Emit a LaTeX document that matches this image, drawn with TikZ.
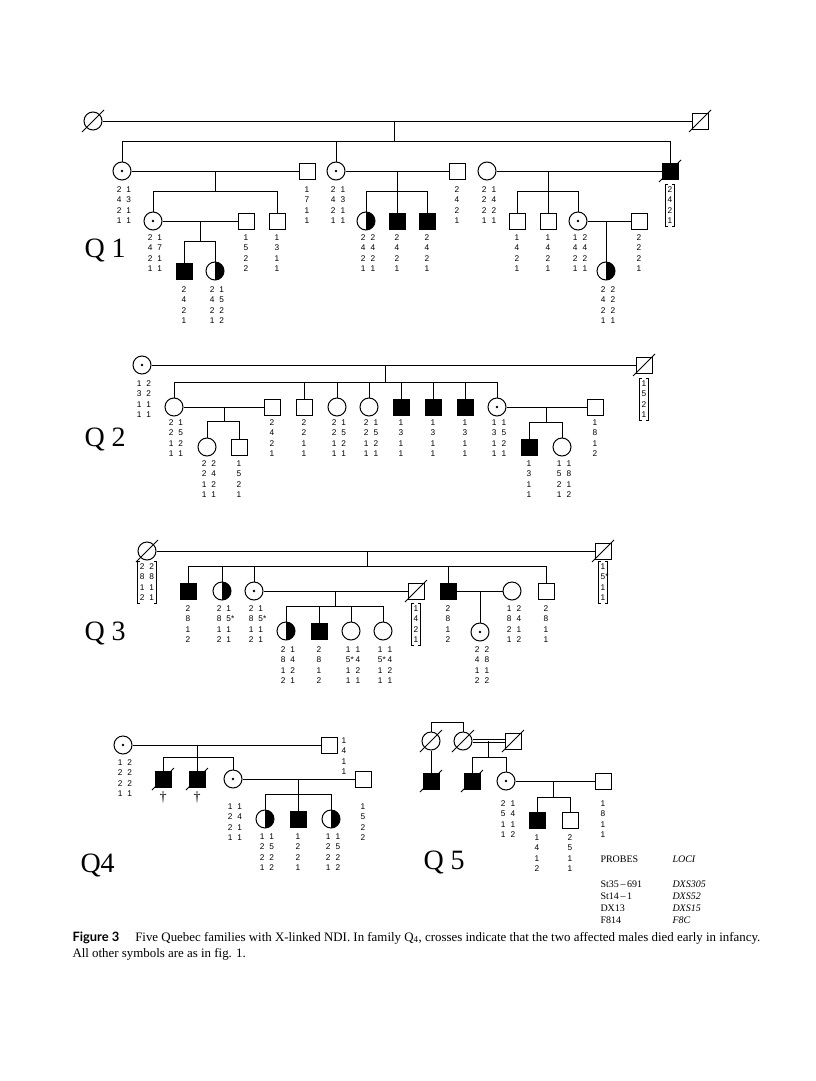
\documentclass[tikz,border=0pt]{standalone}
\usepackage{fontspec}
\setmainfont{Liberation Serif}
\newfontfamily\gtfont{Liberation Sans}
\newfontfamily\capsans{Lato}
\newcommand\gs{\hspace{5pt}}
\newcommand\gA[4]{\node[gt] (#1) at (#2,#3-3) {#4};}
\newcommand\gB[4]{\node[gt] (#1) at (#2+2,#3-3) {#4};}
\newcommand\gK[4]{\node[gt,inner xsep=2pt,inner ysep=2pt] (#1) at (#2,#3-5) {#4};
  \draw[line width=0.8pt] ([xshift=2.5pt]#1.north west) -- (#1.north west) -- (#1.south west) -- ([xshift=2.5pt]#1.south west)
    ([xshift=-2.5pt]#1.north east) -- (#1.north east) -- (#1.south east) -- ([xshift=-2.5pt]#1.south east);}
\newcommand\dec[1]{\draw ([shift={(-11pt,-11pt)}]#1.center) -- ([shift={(11pt,11pt)}]#1.center);}
\tikzset{
 sym/.style={draw, line width=1pt, inner sep=0pt, fill=white},
 male/.style={sym, rectangle, minimum size=16pt},
 fem/.style={sym, circle, minimum size=18pt},
 aff/.style={fill=black},
 carr/.style={path picture={\fill[black] (path picture bounding box.center) circle (1.3pt);}},
 half/.style={path picture={\fill[black] (path picture bounding box.north) rectangle (path picture bounding box.south east);}},
 gt/.style={font=\gtfont\fontsize{8.3}{10.4}\selectfont, align=center, inner sep=0pt, anchor=north},
 qlab/.style={font=\fontsize{28}{28}\selectfont, anchor=base west, inner sep=0pt},
 ptab/.style={font=\fontsize{10}{10}\selectfont, anchor=base west, inner sep=0pt},
}
\begin{document}
\begin{tikzpicture}[x=1pt,y=-1pt,line width=1pt]
\fill[white] (0,0) rectangle (816,1081);
\useasboundingbox (0,0) rectangle (816,1081);

% ================= Q1 =================
\node[fem] (q1a) at (93,121) {}; \dec{q1a}
\node[male] (q1b) at (700,121) {}; \dec{q1b}
\node[fem,carr] (q1c) at (122,171) {};
\node[male] (q1d) at (307,171) {};
\node[fem,carr] (q1e) at (336,171) {};
\node[male] (q1o) at (457,171) {};
\node[fem] (q1t) at (487,171) {};
\node[male,aff] (q1h) at (670,171) {}; \dec{q1h}
\node[fem,carr] (q1f) at (153,221) {};
\node[male] (q1i) at (246,221) {};
\node[male] (q1g) at (277,221) {};
\node[fem,half] (q1q) at (366,221) {};
\node[male,aff] (q1r) at (397,221) {};
\node[male,aff] (q1s) at (427,221) {};
\node[male] (q1v) at (517,221) {};
\node[male] (q1w) at (548,221) {};
\node[fem,carr] (q1x) at (578,221) {};
\node[male] (q1y) at (639,221) {};
\node[male,aff] (q1m) at (184,271) {};
\node[fem,half] (q1n) at (215,271) {};
\node[fem,half] (q1z) at (606,271) {};

\draw (q1a) -- (q1b);
\coordinate (q1j) at (394,141);
\draw (q1a -| q1j) -- (q1j);
\draw (q1c |- q1j) -- (q1h |- q1j);
\foreach \n in {q1c,q1e,q1h} \draw (\n) -- (\n |- q1j);
\draw (q1c) -- (q1d);
\coordinate (q1k) at (215,191);
\draw (q1c -| q1k) -- (q1k);
\draw (q1f |- q1k) -- (q1g |- q1k);
\foreach \n in {q1f,q1g} \draw (\n) -- (\n |- q1k);
\draw (q1f) -- (q1i);
\coordinate (q1l) at (200,241);
\draw (q1f -| q1l) -- (q1l);
\draw (q1m |- q1l) -- (q1n |- q1l);
\foreach \n in {q1m,q1n} \draw (\n) -- (\n |- q1l);
\draw (q1e) -- (q1o);
\coordinate (q1p) at (397,191);
\draw (q1e -| q1p) -- (q1p);
\draw (q1q |- q1p) -- (q1s |- q1p);
\foreach \n in {q1q,q1r,q1s} \draw (\n) -- (\n |- q1p);
\draw (q1t) -- (q1h);
\coordinate (q1u) at (548,191);
\draw (q1t -| q1u) -- (q1u);
\draw (q1v |- q1u) -- (q1x |- q1u);
\foreach \n in {q1v,q1w,q1x} \draw (\n) -- (\n |- q1u);
\draw (q1x) -- (q1y);
\draw (q1x -| q1z) -- (q1z);

\gB{lq1c}{122}{189}{2\gs1\\4\gs3\\2\gs1\\1\gs1}
\gA{lq1d}{307}{189}{1\\7\\1\\1}
\gB{lq1e}{336}{189}{2\gs1\\4\gs3\\2\gs1\\1\gs1}
\gA{lq1o}{457}{189}{2\\4\\2\\1}
\gB{lq1t}{487}{189}{2\gs1\\2\gs4\\2\gs2\\1\gs1}
\gK{lq1h}{670}{189}{2\\4\\2\\1}
\gB{lq1f}{153}{237}{2\gs1\\4\gs7\\2\gs1\\1\gs1}
\gA{lq1i}{246}{237}{1\\5\\2\\2}
\gA{lq1g}{277}{237}{1\\3\\1\\1}
\gB{lq1q}{366}{237}{2\gs2\\4\gs4\\2\gs2\\1\gs1}
\gA{lq1r}{397}{237}{2\\4\\2\\1}
\gA{lq1s}{427}{237}{2\\4\\2\\1}
\gA{lq1v}{517}{237}{1\\4\\2\\1}
\gA{lq1w}{548}{237}{1\\4\\2\\1}
\gB{lq1x}{578}{237}{1\gs2\\4\gs4\\2\gs2\\1\gs1}
\gA{lq1y}{639}{237}{2\\2\\2\\1}
\gA{lq1m}{184}{289}{2\\4\\2\\1}
\gB{lq1n}{215}{289}{2\gs1\\4\gs5\\2\gs2\\1\gs2}
\gB{lq1z}{606}{289}{2\gs2\\4\gs2\\2\gs2\\1\gs1}
\node[qlab] (Q1) at (84,257) {Q 1};

% ================= Q2 =================
\node[fem,carr] (q2a) at (142,365) {};
\node[male] (q2b) at (644,365) {}; \dec{q2b}
\node[fem] (q2c) at (174,407) {};
\node[male] (q2d) at (272,407) {};
\node[male] (q2e) at (304,407) {};
\node[fem] (q2f) at (337,407) {};
\node[fem] (q2g) at (369,407) {};
\node[male,aff] (q2h) at (401,407) {};
\node[male,aff] (q2i) at (433,407) {};
\node[male,aff] (q2k) at (465,407) {};
\node[fem,carr] (q2l) at (497,407) {};
\node[male] (q2p) at (595,407) {};
\node[fem] (q2n) at (207,447) {};
\node[male] (q2o) at (239,447) {};
\node[male,aff] (q2r) at (529,447) {};
\node[fem] (q2s) at (562,447) {};

\draw (q2a) -- (q2b);
\coordinate (q2j) at (385,382);
\draw (q2a -| q2j) -- (q2j);
\draw (q2c |- q2j) -- (q2l |- q2j);
\foreach \n in {q2c,q2e,q2f,q2g,q2h,q2i,q2k,q2l} \draw (\n) -- (\n |- q2j);
\draw (q2c) -- (q2d);
\coordinate (q2m) at (224,421);
\draw (q2c -| q2m) -- (q2m);
\draw (q2n |- q2m) -- (q2o |- q2m);
\foreach \n in {q2n,q2o} \draw (\n) -- (\n |- q2m);
\draw (q2l) -- (q2p);
\coordinate (q2q) at (546,422);
\draw (q2l -| q2q) -- (q2q);
\draw (q2r |- q2q) -- (q2s |- q2q);
\foreach \n in {q2r,q2s} \draw (\n) -- (\n |- q2q);

\gB{lq2a}{142}{383}{1\gs2\\3\gs2\\1\gs1\\1\gs1}
\gK{lq2b}{644}{383}{1\\5\\2\\1}
\gB{lq2c}{174}{422}{2\gs1\\2\gs5\\1\gs2\\1\gs1}
\gA{lq2d}{272}{422}{2\\4\\2\\1}
\gA{lq2e}{304}{422}{2\\2\\1\\1}
\gB{lq2f}{337}{422}{2\gs1\\2\gs5\\1\gs2\\1\gs1}
\gB{lq2g}{369}{422}{2\gs1\\2\gs5\\1\gs2\\1\gs1}
\gA{lq2h}{401}{422}{1\\3\\1\\1}
\gA{lq2i}{433}{422}{1\\3\\1\\1}
\gA{lq2k}{465}{422}{1\\3\\1\\1}
\gB{lq2l}{497}{422}{1\gs1\\3\gs5\\1\gs2\\1\gs1}
\gA{lq2p}{595}{422}{1\\8\\1\\2}
\gB{lq2n}{207}{463}{2\gs2\\2\gs4\\1\gs2\\1\gs1}
\gA{lq2o}{239}{463}{1\\5\\2\\1}
\gA{lq2r}{529}{463}{1\\3\\1\\1}
\gB{lq2s}{562}{463}{1\gs1\\5\gs8\\2\gs1\\1\gs2}
\node[qlab] (Q2) at (84,446) {Q 2};

% ================= Q3 =================
\node[fem] (q3a) at (147,551) {}; \dec{q3a}
\node[male] (q3b) at (603,551) {}; \dec{q3b}
\node[male,aff] (q3c) at (188,591) {};
\node[fem,half] (q3d) at (222,591) {};
\node[fem,carr] (q3e) at (254,591) {};
\node[male] (q3f) at (416,591) {}; \dec{q3f}
\node[male,aff] (q3g) at (448,591) {};
\node[fem] (q3h) at (512,591) {};
\node[male] (q3i) at (546,591) {};
\node[fem,carr] (q3k) at (480,632) {};
\node[fem,half] (q3m) at (286,631) {};
\node[male,aff] (q3n) at (319,631) {};
\node[fem] (q3o) at (351,631) {};
\node[fem] (q3p) at (383,631) {};

\draw (q3a) -- (q3b);
\coordinate (q3j) at (367,566);
\draw (q3a -| q3j) -- (q3j);
\draw (q3c |- q3j) -- (q3i |- q3j);
\foreach \n in {q3c,q3d,q3e,q3g,q3i} \draw (\n) -- (\n |- q3j);
\draw (q3e) -- (q3f);
\coordinate (q3l) at (335,606);
\draw (q3e -| q3l) -- (q3l);
\draw (q3m |- q3l) -- (q3p |- q3l);
\foreach \n in {q3m,q3n,q3o,q3p} \draw (\n) -- (\n |- q3l);
\draw (q3g) -- (q3h);
\draw (q3g -| q3k) -- (q3k);

\gK{lq3a}{147}{566}{2\gs2\\8\gs8\\1\gs1\\2\gs1}
\gK{lq3b}{603}{566}{1\\5\rlap{*}\\1\\1}
\gA{lq3c}{188}{608}{2\\8\\1\\2}
\gB{lq3d}{222}{608}{2\gs1\\8\gs5\rlap{*}\\1\gs1\\2\gs1}
\gB{lq3e}{254}{608}{2\gs1\\8\gs5\rlap{*}\\1\gs1\\2\gs1}
\gK{lq3f}{416}{608}{1\\4\\2\\1}
\gA{lq3g}{448}{608}{2\\8\\1\\2}
\gB{lq3h}{512}{608}{1\gs2\\8\gs4\\2\gs1\\1\gs2}
\gA{lq3i}{546}{608}{2\\8\\1\\1}
\gB{lq3k}{480}{649}{2\gs2\\4\gs8\\1\gs1\\2\gs2}
\gB{lq3m}{286}{649}{2\gs1\\8\gs4\\1\gs2\\2\gs1}
\gA{lq3n}{319}{649}{2\\8\\1\\2}
\gB{lq3o}{351}{649}{1\gs1\\5\rlap{*}\gs4\\1\gs2\\1\gs1}
\gB{lq3p}{383}{649}{1\gs1\\5\rlap{*}\gs4\\1\gs2\\1\gs1}
\node[qlab] (Q3) at (84,640) {Q 3};

% ================= Q4 =================
\node[fem,carr] (q4a) at (123,745) {};
\node[male] (q4b) at (329,745) {};
\node[male,aff] (q4c) at (163,779) {}; \dec{q4c}
\node[male,aff] (q4d) at (197,779) {}; \dec{q4d}
\node[fem,carr] (q4e) at (233,779) {};
\node[male] (q4f) at (363,779) {};
\node[fem,half] (q4g) at (265,819) {};
\node[male,aff] (q4h) at (298,819) {};
\node[fem,half] (q4i) at (331,819) {};
\node[font=\fontsize{14}{14}\selectfont, inner sep=0pt] (x1) at (163,797) {\textdagger};
\node[font=\fontsize{14}{14}\selectfont, inner sep=0pt] (x2) at (197,797) {\textdagger};

\draw (q4a) -- (q4b);
\coordinate (q4j) at (197,757);
\draw (q4a -| q4j) -- (q4j);
\draw (q4c |- q4j) -- (q4e |- q4j);
\foreach \n in {q4c,q4d,q4e} \draw (\n) -- (\n |- q4j);
\draw (q4e) -- (q4f);
\coordinate (q4k) at (298,794);
\draw (q4e -| q4k) -- (q4k);
\draw (q4g |- q4k) -- (q4i |- q4k);
\foreach \n in {q4g,q4h,q4i} \draw (\n) -- (\n |- q4k);

\gB{lq4a}{123}{762}{1\gs2\\2\gs2\\2\gs2\\1\gs1}
\gA{lq4b}{344}{740}{1\\4\\1\\1}
\gB{lq4e}{233}{806}{1\gs1\\2\gs4\\2\gs1\\1\gs1}
\gA{lq4f}{363}{806}{1\\5\\2\\2}
\gB{lq4g}{265}{836}{1\gs1\\2\gs5\\2\gs2\\1\gs2}
\gA{lq4h}{298}{836}{1\\2\\2\\1}
\gB{lq4i}{331}{836}{1\gs1\\2\gs5\\2\gs2\\1\gs2}
\node[qlab] (Q4) at (80,872) {Q4};

% ================= Q5 =================
\node[fem] (q5a) at (431,741) {}; \dec{q5a}
\node[fem] (q5b) at (463,741) {}; \dec{q5b}
\node[male] (q5c) at (513,741) {}; \dec{q5c}
\node[male,aff] (q5d) at (431,781) {}; \dec{q5d}
\node[male,aff] (q5e) at (472,781) {}; \dec{q5e}
\node[fem,carr] (q5f) at (506,781) {};
\node[male] (q5g) at (603,781) {};
\node[male,aff] (q5h) at (537,820) {};
\node[male] (q5i) at (570,820) {};

\coordinate (q5t) at (447,722);
\draw (q5a) -- (q5a |- q5t) -- (q5b |- q5t) -- (q5b);
\draw[double, double distance=2.5pt, line width=0.9pt] (q5b) -- (q5c);
\draw (q5a) -- (q5d);
\coordinate (q5j) at (488,757);
\draw (q5b -| q5j) -- (q5j);
\draw (q5e |- q5j) -- (q5f |- q5j);
\foreach \n in {q5e,q5f} \draw (\n) -- (\n |- q5j);
\draw (q5f) -- (q5g);
\coordinate (q5k) at (553,797);
\draw (q5f -| q5k) -- (q5k);
\draw (q5h |- q5k) -- (q5i |- q5k);
\foreach \n in {q5h,q5i} \draw (\n) -- (\n |- q5k);

\gB{lq5f}{506}{803}{2\gs1\\5\gs4\\1\gs1\\1\gs2}
\gA{lq5g}{603}{803}{1\\8\\1\\1}
\gA{lq5h}{537}{837}{1\\4\\1\\2}
\gA{lq5i}{570}{837}{2\\5\\1\\1}
\node[qlab] (Q5) at (423,869) {Q 5};

% ================= probes table =================
\node[ptab] (pr) at (600,862) {PROBES};
\node[ptab] (lo) at (672,862) {\itshape LOCI};
\node[ptab] (p1) at (600,887) {St35\,--\,691};
\node[ptab] (l1) at (672,887) {\itshape DXS305};
\node[ptab] (p2) at (600,899) {St14\,--\,1};
\node[ptab] (l2) at (672,899) {\itshape DXS52};
\node[ptab] (p3) at (600,911) {DX13};
\node[ptab] (l3) at (672,911) {\itshape DXS15};
\node[ptab] (p4) at (600,923) {F814};
\node[ptab] (l4) at (672,923) {\itshape F8C};

% ================= caption =================
\node[anchor=north west, inner sep=0pt, align=left, font=\fontsize{12.9}{16}\selectfont] (cap) at (72,931)
 {{\capsans\bfseries Figure 3}\hspace{16pt}Five Quebec families with X-linked NDI. In family Q\textsubscript{4}, crosses indicate that the two affected males died early in infancy.\\
 All other symbols are as in fig. 1.};
\end{tikzpicture}
\end{document}
